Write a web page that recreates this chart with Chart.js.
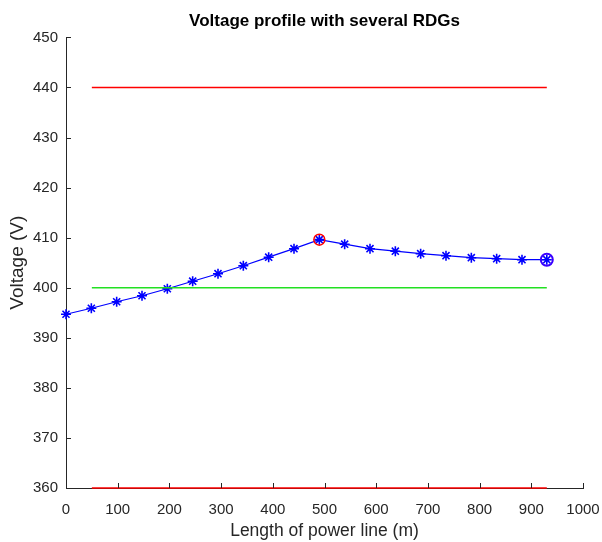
<!DOCTYPE html>
<html>
<head>
<meta charset="utf-8">
<script src="https://cdn.jsdelivr.net/npm/chart.js@4/dist/chart.umd.min.js"></script>
<style>
  html, body { margin: 0; padding: 0; background: #fff; }
  #chartBox { width: 602px; height: 542px; }
</style>
</head>
<body>
<div id="chartBox"><canvas id="voltageChart"></canvas></div>
<script>
// distance along the line (m) and measured voltage (V)
const distances = [0, 49, 98, 147, 196, 245, 294, 343, 392, 441, 490, 539, 588, 637, 686, 735, 784, 833, 882, 930];
const voltages = [394.7, 395.9, 397.2, 398.4, 399.8, 401.3, 402.8, 404.4, 406.1, 407.8, 409.6, 408.7, 407.8, 407.3, 406.8, 406.4, 406.0, 405.8, 405.6, 405.6];

// limit lines
const limitX = [50, 930];
const upperLimit = [440, 440];
const lowerLimit = [360, 360];
const nominal = [400, 400];

// RDG locations
const rdgX = [490];
const rdgV = [409.6];
const endX = [930];
const endV = [405.6];

const xTicks = [0, 100, 200, 300, 400, 500, 600, 700, 800, 900, 1000];
const yTicks = [360, 370, 380, 390, 400, 410, 420, 430, 440, 450];

const pairs = (xs, ys) => xs.map((x, i) => ({ x: x, y: ys[i] }));

const axisColor = '#262626';

// MATLAB style ticks pointing into the plot
const inwardTicks = {
  id: 'inwardTicks',
  afterDraw(chart) {
    const { ctx, chartArea, scales } = chart;
    ctx.save();
    ctx.strokeStyle = axisColor;
    ctx.lineWidth = 1;
    ctx.beginPath();
    scales.x.ticks.forEach(t => {
      const px = Math.round(scales.x.getPixelForValue(t.value)) + 0.5;
      ctx.moveTo(px, chartArea.bottom);
      ctx.lineTo(px, chartArea.bottom - 5);
    });
    scales.y.ticks.forEach(t => {
      const py = Math.round(scales.y.getPixelForValue(t.value)) + 0.5;
      ctx.moveTo(chartArea.left, py);
      ctx.lineTo(chartArea.left + 5, py);
    });
    ctx.stroke();
    ctx.restore();
  }
};

const font = 'Liberation Sans, Arial, sans-serif';

new Chart(document.getElementById('voltageChart'), {
  type: 'scatter',
  data: {
    datasets: [
      {
        label: 'Upper limit',
        data: pairs(limitX, upperLimit),
        showLine: true,
        borderColor: '#ff0000',
        borderWidth: 1.4,
        pointRadius: 0,
        clip: 6
      },
      {
        label: 'Lower limit',
        data: pairs(limitX, lowerLimit),
        showLine: true,
        borderColor: '#ff0000',
        borderWidth: 1.5,
        pointRadius: 0,
        clip: 6
      },
      {
        label: 'Nominal',
        data: pairs(limitX, nominal),
        showLine: true,
        borderColor: '#22e022',
        borderWidth: 1.4,
        pointRadius: 0,
        clip: 6
      },
      {
        label: 'RDG',
        data: pairs(rdgX, rdgV),
        pointStyle: 'circle',
        pointRadius: 5.5,
        borderColor: '#ff0000',
        backgroundColor: 'rgba(0,0,0,0)',
        borderWidth: 1.5,
        clip: 8
      },
      {
        label: 'End',
        data: pairs(endX, endV),
        pointStyle: 'circle',
        pointRadius: 6,
        borderColor: '#3a00ff',
        backgroundColor: 'rgba(0,0,0,0)',
        borderWidth: 2,
        clip: 8
      },
      {
        label: 'Voltage',
        data: pairs(distances, voltages),
        showLine: true,
        borderColor: '#0000ff',
        borderWidth: 1.2,
        pointStyle: 'star',
        pointRadius: 5,
        pointBorderColor: '#0000ff',
        pointBorderWidth: 1.6,
        clip: 8
      }
    ]
  },
  options: {
    responsive: true,
    maintainAspectRatio: false,
    animation: false,
    layout: { padding: { left: 0, right: 19, top: 0, bottom: 0 } },
    plugins: {
      legend: { display: false },
      tooltip: { enabled: false },
      title: {
        display: true,
        fullSize: false,
        text: 'Voltage profile with several RDGs',
        color: '#000',
        font: { family: font, size: 17, weight: 'bold' },
        padding: { top: 11, bottom: 6 }
      }
    },
    scales: {
      x: {
        type: 'linear',
        min: 0,
        max: 1000,
        afterBuildTicks: s => { s.ticks = xTicks.map(v => ({ value: v })); },
        afterFit: s => { s.height = 54; s.paddingLeft = 0; s.paddingRight = 0; },
        grid: { display: true, drawOnChartArea: false, drawTicks: false },
        border: { display: true, color: axisColor, width: 1 },
        ticks: {
          color: axisColor,
          padding: 13,
          maxRotation: 0,
          font: { family: font, size: 15 },
          callback: v => String(v)
        },
        title: {
          display: true,
          text: 'Length of power line (m)',
          color: axisColor,
          font: { family: font, size: 17.5 },
          padding: { top: 2, bottom: 0 }
        }
      },
      y: {
        type: 'linear',
        min: 360,
        max: 450,
        afterBuildTicks: s => { s.ticks = yTicks.map(v => ({ value: v })); },
        afterFit: s => { s.width = 66; s.paddingTop = 0; s.paddingBottom = 0; },
        grid: { display: true, drawOnChartArea: false, drawTicks: false },
        border: { display: true, color: axisColor, width: 1 },
        ticks: { color: axisColor, padding: 8, font: { family: font, size: 15 } },
        title: {
          display: true,
          text: 'Voltage (V)',
          color: axisColor,
          font: { family: font, size: 19 },
          padding: { top: 6, bottom: 0 }
        }
      }
    }
  },
  plugins: [inwardTicks]
});
</script>
</body>
</html>
